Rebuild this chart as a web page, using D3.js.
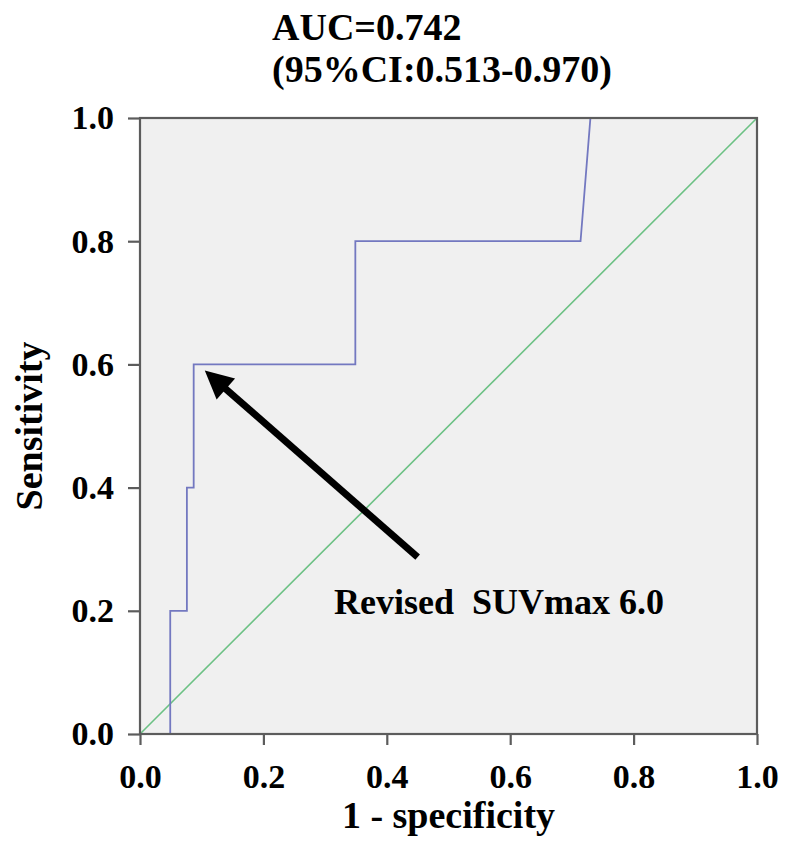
<!DOCTYPE html>
<html>
<head>
<meta charset="utf-8">
<script src="https://cdn.jsdelivr.net/npm/d3@7"></script>
<style>
  html, body { margin: 0; padding: 0; background: #ffffff; }
  svg { display: block; }
  text { font-family: "Liberation Serif", "Times New Roman", serif; font-weight: bold; fill: #000; }
</style>
</head>
<body>
<svg id="chart" width="790" height="859"></svg>
<script>
// ROC curve points (1 - specificity, sensitivity)
const rocFpr = [0.0, 0.049, 0.049, 0.076, 0.076, 0.087, 0.087, 0.349, 0.349, 0.714, 0.73, 1.0];
const rocTpr = [0.0, 0.0,   0.2,   0.2,   0.4,   0.4,   0.6,   0.6,   0.8,   0.8,   1.0,  1.0];
// reference diagonal
const refFpr = [0, 1];
const refTpr = [0, 1];
const tickValues = [0.0, 0.2, 0.4, 0.6, 0.8, 1.0];
const titleLines = ["AUC=0.742", "(95%CI:0.513-0.970)"];
const xTitle = "1 - specificity";
const yTitle = "Sensitivity";
const annotation = "Revised\u00a0\u00a0SUVmax 6.0";
const arrowFrom = [0.45, 0.287];  // data coords of arrow tail
const arrowTo = [0.105, 0.59];    // data coords of arrow tip

(function () {
const svg = d3.select("#chart");
const pL = 140, pR = 757, pT = 118, pB = 734;
const x = d3.scaleLinear().domain([0, 1]).range([pL, pR]);
const y = d3.scaleLinear().domain([0, 1]).range([pB, pT]);

svg.append("rect")
  .attr("x", pL).attr("y", pT)
  .attr("width", pR - pL).attr("height", pB - pT)
  .attr("fill", "#f0f0f0");

svg.append("path")
  .datum(d3.zip(refFpr, refTpr))
  .attr("d", d3.line().x(d => x(d[0])).y(d => y(d[1])))
  .attr("fill", "none")
  .attr("stroke", "#6cc184")
  .attr("stroke-width", 1.6);

svg.append("path")
  .datum(d3.zip(rocFpr, rocTpr))
  .attr("d", d3.line().x(d => x(d[0])).y(d => y(d[1])))
  .attr("fill", "none")
  .attr("stroke", "#7378c0")
  .attr("stroke-width", 1.8);

svg.append("rect")
  .attr("x", pL).attr("y", pT)
  .attr("width", pR - pL).attr("height", pB - pT)
  .attr("fill", "none")
  .attr("stroke", "#5c5c5c")
  .attr("stroke-width", 2.2);

const xAxis = d3.axisBottom(x).tickValues(tickValues).tickFormat(d3.format(".1f")).tickSize(11).tickPadding(19);
const yAxis = d3.axisLeft(y).tickValues(tickValues).tickFormat(d3.format(".1f")).tickSize(12).tickPadding(14);

const gx = svg.append("g").attr("transform", `translate(0,${pB})`).call(xAxis);
const gy = svg.append("g").attr("transform", `translate(${pL},0)`).call(yAxis);
[gx, gy].forEach(g => {
  g.select(".domain").remove();
  g.selectAll(".tick line").attr("stroke", "#5c5c5c").attr("stroke-width", 2.2);
  g.selectAll(".tick text")
    .style("font-family", "'Liberation Serif', 'Times New Roman', serif")
    .style("font-weight", "bold")
    .style("font-size", "34px")
    .attr("fill", "#000");
});

svg.append("text").attr("x", 272).attr("y", 40).style("font-size", "38px").text(titleLines[0]);
svg.append("text").attr("x", 272).attr("y", 82).style("font-size", "38px").text(titleLines[1]);

svg.append("text")
  .attr("x", (pL + pR) / 2).attr("y", 828)
  .attr("text-anchor", "middle")
  .style("font-size", "38px")
  .text(xTitle);

svg.append("text")
  .attr("transform", `translate(42, ${(pT + pB) / 2}) rotate(-90)`)
  .attr("text-anchor", "middle")
  .style("font-size", "38px")
  .text(yTitle);

const tip = [x(arrowTo[0]), y(arrowTo[1])];
const tail = [x(arrowFrom[0]), y(arrowFrom[1])];
const ang = Math.atan2(tip[1] - tail[1], tip[0] - tail[0]);
const headLen = 28;
const lineEnd = [tip[0] - headLen * 0.8 * Math.cos(ang), tip[1] - headLen * 0.8 * Math.sin(ang)];
svg.append("line")
  .attr("x1", tail[0]).attr("y1", tail[1])
  .attr("x2", lineEnd[0]).attr("y2", lineEnd[1])
  .attr("stroke", "#000").attr("stroke-width", 7);
const hw = 14;
const base = [tip[0] - headLen * Math.cos(ang), tip[1] - headLen * Math.sin(ang)];
const px = -Math.sin(ang), py = Math.cos(ang);
svg.append("path")
  .attr("d", `M${tip[0]},${tip[1]} L${base[0] + hw * px},${base[1] + hw * py} L${base[0] - hw * px},${base[1] - hw * py} Z`)
  .attr("fill", "#000");

svg.append("text")
  .attr("x", 334).attr("y", 614)
  .style("font-size", "36px")
  .text(annotation);
})();
</script>
</body>
</html>
